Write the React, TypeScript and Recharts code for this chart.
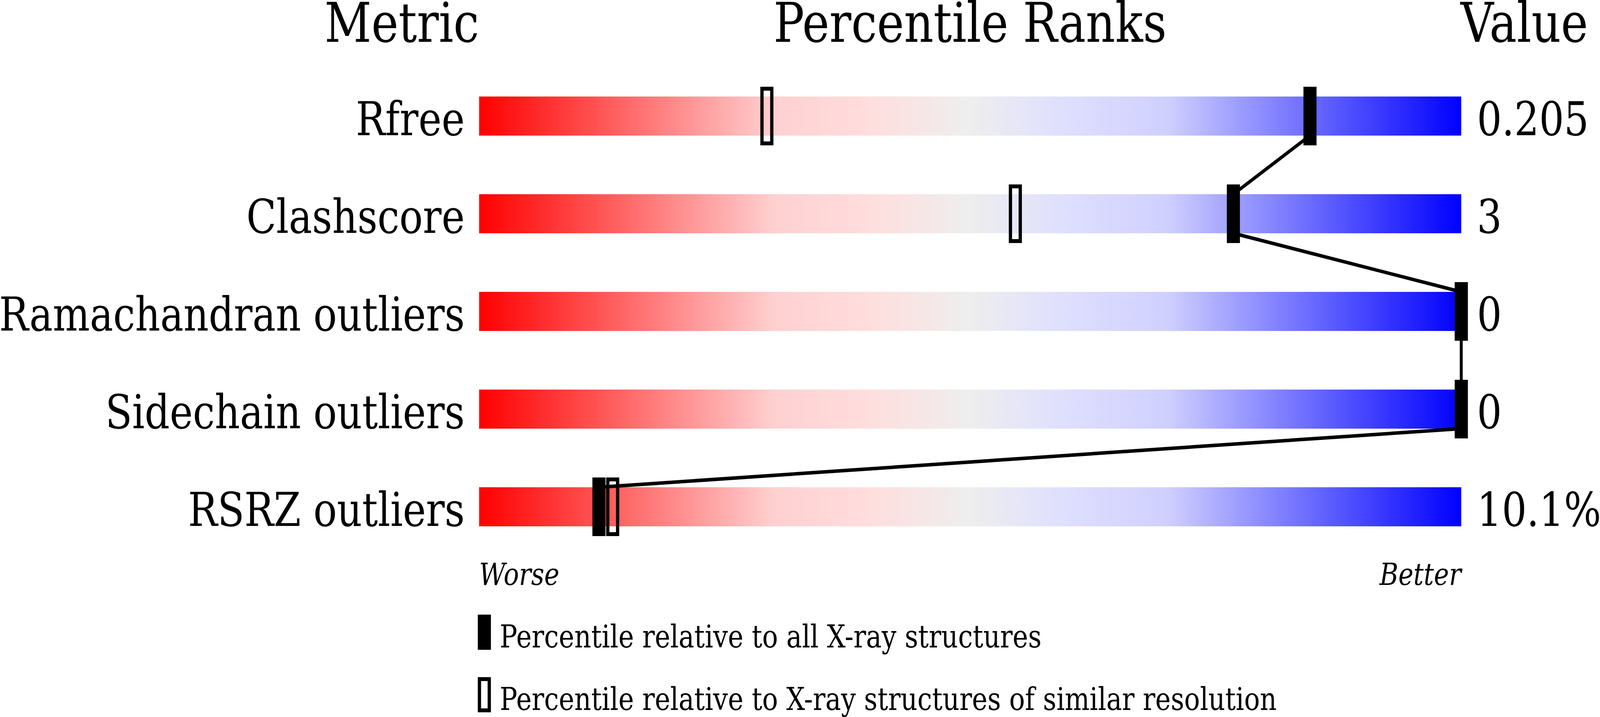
import { ComposedChart, XAxis, YAxis, ReferenceArea, Scatter, Line } from "recharts";

// metric rows, top to bottom
const metrics = ["Rfree", "Clashscore", "Ramachandran outliers", "Sidechain outliers", "RSRZ outliers"];
const metricValues = ["0.205", "3", "0", "0", "10.1%"];
// percentile rank vs all X-ray structures (filled marker)
const percentileAll = [84.6, 76.8, 100, 100, 12.2];
// percentile rank vs structures of similar resolution (open marker)
const percentileSimilar = [29.3, 54.6, 100, 100, 13.6];
const scaleEnds = ["Worse", "Better"];
const legendLabels = [
  "Percentile relative to all X-ray structures",
  "Percentile relative to X-ray structures of similar resolution",
];

const W = 4889;
const H = 1835;
const FONT = "'DejaVu Serif', serif";
const BAR_HALF = 0.2; // half bar thickness in row units

const rows = metrics.map((_, i) => i);
const allPoints = percentileAll.map((x, y) => ({ x, y }));
const similarPoints = percentileSimilar.map((x, y) => ({ x, y }));
// polyline through the filled markers, leaving each bar at its bottom edge and entering the next at its top
const linkPoints = percentileAll.flatMap((x, y) => [
  { x, y: y - BAR_HALF },
  { x, y: y + BAR_HALF },
]);

const FilledMarker = (props: any) => {
  const { cx, cy } = props;
  return <rect x={cx - 20} y={cy - 75} width={40} height={150} fill="#000" />;
};

const OpenMarker = (props: any) => {
  const { cx, cy } = props;
  return <rect x={cx - 15} y={cy - 70} width={30} height={140} fill="none" stroke="#000" strokeWidth={10} />;
};

const MetricTick = (props: any) => {
  const { x, y, payload } = props;
  return (
    <text x={x} y={y} dy={49} textAnchor="end" fontFamily={FONT} fontSize={119.5} fill="#000">
      {metrics[payload.value]}
    </text>
  );
};

const ValueTick = (props: any) => {
  const { x, y, payload } = props;
  return (
    <text x={x} y={y} dy={49} textAnchor="start" fontFamily={FONT} fontSize={119.5} fill="#000">
      {metricValues[payload.value]}
    </text>
  );
};

const EndTick = (props: any) => {
  const { x, y, payload, index } = props;
  return (
    <text
      x={x}
      y={y}
      textAnchor={index === 0 ? "start" : "end"}
      fontFamily={FONT}
      fontStyle="italic"
      fontSize={78}
      fill="#000"
    >
      {scaleEnds[payload.value === 0 ? 0 : 1]}
    </text>
  );
};

export default function App() {
  // the browser caps the viewport width, so squeeze the drawing into whatever is available
  const vw = typeof window !== "undefined" ? window.innerWidth : W;
  const vh = typeof window !== "undefined" ? window.innerHeight : H;
  const sx = Math.min(1, vw / W);
  const sy = Math.min(1, vh / H);
  return (
    <div
      style={{
        position: "absolute",
        left: 0,
        top: 0,
        width: W,
        height: H,
        background: "#fff",
        transform: `scale(${sx}, ${sy})`,
        transformOrigin: "0 0",
      }}
    >
      <ComposedChart width={W} height={H} margin={{ top: 172, right: 0, bottom: 0, left: 0 }}>
        <defs>
          <linearGradient id="sliderGradient" x1="0" y1="0" x2="1" y2="0">
            <stop offset="0%" stopColor="#ff0000" />
            <stop offset="30%" stopColor="#ffd0d0" />
            <stop offset="40%" stopColor="#ffdede" />
            <stop offset="50%" stopColor="#eeeeee" />
            <stop offset="60%" stopColor="#dedeff" />
            <stop offset="70%" stopColor="#d0d0ff" />
            <stop offset="100%" stopColor="#0000ff" />
          </linearGradient>
        </defs>

        <XAxis
          type="number"
          dataKey="x"
          domain={[0, 100]}
          ticks={[0, 100]}
          interval={0}
          height={413}
          axisLine={false}
          tickLine={false}
          tickSize={0}
          tickMargin={75}
          tick={<EndTick />}
        />
        <YAxis
          type="number"
          dataKey="y"
          domain={[-0.5, 4.5]}
          reversed
          allowDataOverflow
          ticks={rows}
          interval={0}
          width={1464}
          axisLine={false}
          tickLine={false}
          tickSize={0}
          tickMargin={44}
          tick={<MetricTick />}
        />
        <YAxis
          yAxisId="value"
          orientation="right"
          type="number"
          dataKey="y"
          domain={[-0.5, 4.5]}
          reversed
          allowDataOverflow
          ticks={rows}
          interval={0}
          width={424}
          axisLine={false}
          tickLine={false}
          tickSize={0}
          tickMargin={48}
          tick={<ValueTick />}
        />

        {rows.map((i) => (
          <ReferenceArea
            key={metrics[i]}
            x1={0}
            x2={100}
            y1={i - BAR_HALF}
            y2={i + BAR_HALF}
            fill="url(#sliderGradient)"
            fillOpacity={1}
            stroke="none"
            ifOverflow="visible"
          />
        ))}

        <Scatter data={similarPoints} shape={OpenMarker} isAnimationActive={false} />
        <Line
          data={linkPoints}
          dataKey="y"
          type="linear"
          stroke="#000"
          strokeWidth={9}
          dot={false}
          activeDot={false}
          isAnimationActive={false}
        />
        <Scatter data={allPoints} shape={FilledMarker} isAnimationActive={false} />

        {/* column headers */}
        <text x={1464} y={107} textAnchor="end" fontFamily={FONT} fontSize={140} fill="#000">
          Metric
        </text>
        <text x={2964} y={107} textAnchor="middle" fontFamily={FONT} fontSize={140} fill="#000">
          Percentile Ranks
        </text>
        <text x={4463} y={107} textAnchor="start" fontFamily={FONT} fontSize={140} fill="#000">
          Value
        </text>

        {/* legend */}
        <rect x={1460} y={1573} width={40} height={90} fill="#000" />
        <text x={1527} y={1657} fontFamily={FONT} fontSize={80} fill="#000">
          {legendLabels[0]}
        </text>
        <rect x={1465} y={1738} width={30} height={80} fill="none" stroke="#000" strokeWidth={10} />
        <text x={1527} y={1817} fontFamily={FONT} fontSize={80} fill="#000">
          {legendLabels[1]}
        </text>
      </ComposedChart>
    </div>
  );
}
